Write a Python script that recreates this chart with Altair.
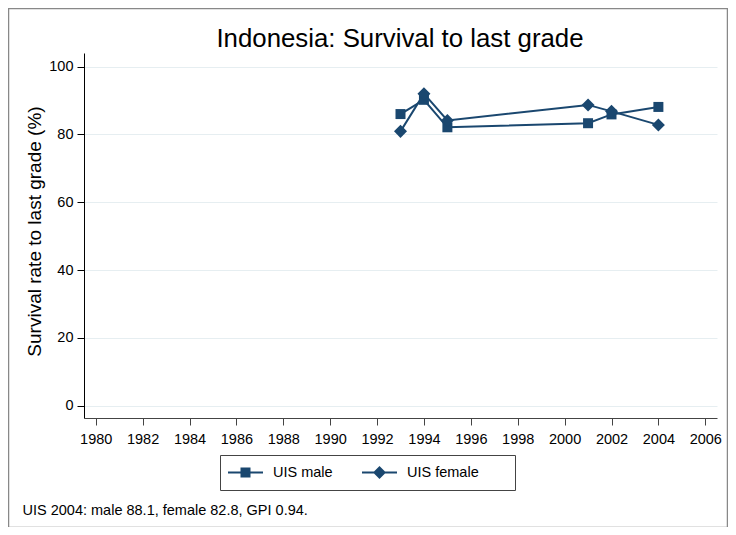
import altair as alt
import pandas as pd

# ---- data ----
YEARS = [1993, 1994, 1995, 2001, 2002, 2004]
MALE = [86.0, 90.2, 82.1, 83.3, 85.9, 88.1]
FEMALE = [80.9, 92.0, 84.1, 88.7, 86.8, 82.8]
SERIES = ["UIS male", "UIS female"]
X_TICKS = list(range(1980, 2007, 2))
Y_TICKS = [0, 20, 40, 60, 80, 100]
TITLE = "Indonesia: Survival to last grade"
Y_TITLE = "Survival rate to last grade (%)"
NOTE = "UIS 2004: male 88.1, female 82.8, GPI 0.94."

NAVY = "#1a476f"
FONT = "Liberation Sans"

rows = []
for y, m, f in zip(YEARS, MALE, FEMALE):
    rows.append({"year": y, "value": m, "series": SERIES[0]})
    rows.append({"year": y, "value": f, "series": SERIES[1]})
df = pd.DataFrame(rows)

W, H = 633, 365

xscale = alt.Scale(domain=[1979.5, 2006.5], nice=False, zero=False)
yscale = alt.Scale(domain=[-3.6, 104], nice=False, zero=False)

x_enc = alt.X(
    "year:Q",
    scale=xscale,
    axis=alt.Axis(
        values=X_TICKS, format="d", title=None, grid=False,
        domainColor="#444", tickColor="#444", tickSize=7, domainWidth=1,
        labelFontSize=14.5, labelFont=FONT, labelColor="#000", labelPadding=7,
        labelFlush=False, labelOverlap=False,
    ),
)
y_enc = alt.Y(
    "value:Q",
    scale=yscale,
    axis=alt.Axis(
        values=Y_TICKS, title=Y_TITLE, grid=True, gridColor="#e6eef1", gridWidth=1,
        domainColor="#000", tickColor="#000", tickSize=7,
        labelFontSize=14.5, labelFont=FONT, labelColor="#000", labelPadding=4,
        titleFont=FONT, titleFontSize=19, titleFontWeight="normal", titleColor="#000",
        titleAngle=270, titleX=-44, titleY=178, titleAlign="center",
        titleBaseline="alphabetic",
    ),
)

base = alt.Chart(df)

lines = base.mark_line(color=NAVY, strokeWidth=2).encode(
    x=x_enc, y=y_enc, detail="series:N"
)
squares = base.transform_filter(alt.datum.series == SERIES[0]).mark_point(
    shape="square", filled=True, size=100, color=NAVY, opacity=1
).encode(x="year:Q", y="value:Q")
diamonds = base.transform_filter(alt.datum.series == SERIES[1]).mark_point(
    shape="diamond", filled=True, size=170, color=NAVY, opacity=1
).encode(x="year:Q", y="value:Q")

PATH_M = "M-1,-0.057H1V0.057H-1Z M-0.286,-0.286H0.286V0.286H-0.286Z"
PATH_F = "M-1,-0.057H1V0.057H-1Z M0,-0.37L0.37,0L0,0.37L-0.37,0Z"

legend_layer = base.transform_filter("false").mark_point(
    filled=True, color=NAVY, opacity=1
).encode(
    x="year:Q", y="value:Q",
    shape=alt.Shape(
        "series:N",
        scale=alt.Scale(domain=SERIES, range=[PATH_M, PATH_F]),
        legend=alt.Legend(
            orient="none", legendX=144, legendY=402, direction="horizontal",
            title=None, symbolSize=1225, labelOffset=10, columnPadding=29,
            labelFontSize=14.5, labelFont=FONT, labelColor="#000",
            symbolStrokeWidth=0, padding=0,
        ),
    ),
)

one = alt.Data(values=[{"t": 1}])

legend_box = alt.Chart(one).mark_rect(
    fill="white", fillOpacity=0, stroke="#444", strokeWidth=1
).encode(
    x=alt.value(136.5), x2=alt.value(431.5), y=alt.value(402.5), y2=alt.value(437.5)
)
frame = alt.Chart(one).mark_rect(
    fill="white", fillOpacity=0, stroke="#888", strokeWidth=1.5
).encode(
    x=alt.value(-75.5), x2=alt.value(643.5), y=alt.value(-44.5), y2=alt.value(474.5)
)
title = alt.Chart(alt.Data(values=[{"t": TITLE}])).mark_text(
    font=FONT, fontSize=25.8, color="#000", align="center", baseline="alphabetic"
).encode(text="t:N", x=alt.value(316), y=alt.value(-6))
note = alt.Chart(alt.Data(values=[{"t": NOTE}])).mark_text(
    font=FONT, fontSize=14.5, color="#000", align="left", baseline="alphabetic"
).encode(text="t:N", x=alt.value(-61.5), y=alt.value(462))

chart = alt.layer(
    frame, lines, squares, diamonds, legend_box, legend_layer, title, note
).properties(
    width=W, height=H,
    autosize=alt.AutoSizeParams(type="none"),
    padding={"left": 76, "top": 45, "right": 11, "bottom": 109},
    background="white",
).configure_view(stroke=None)

chart.save("out.html", embed_options={"renderer": "svg", "actions": False})
